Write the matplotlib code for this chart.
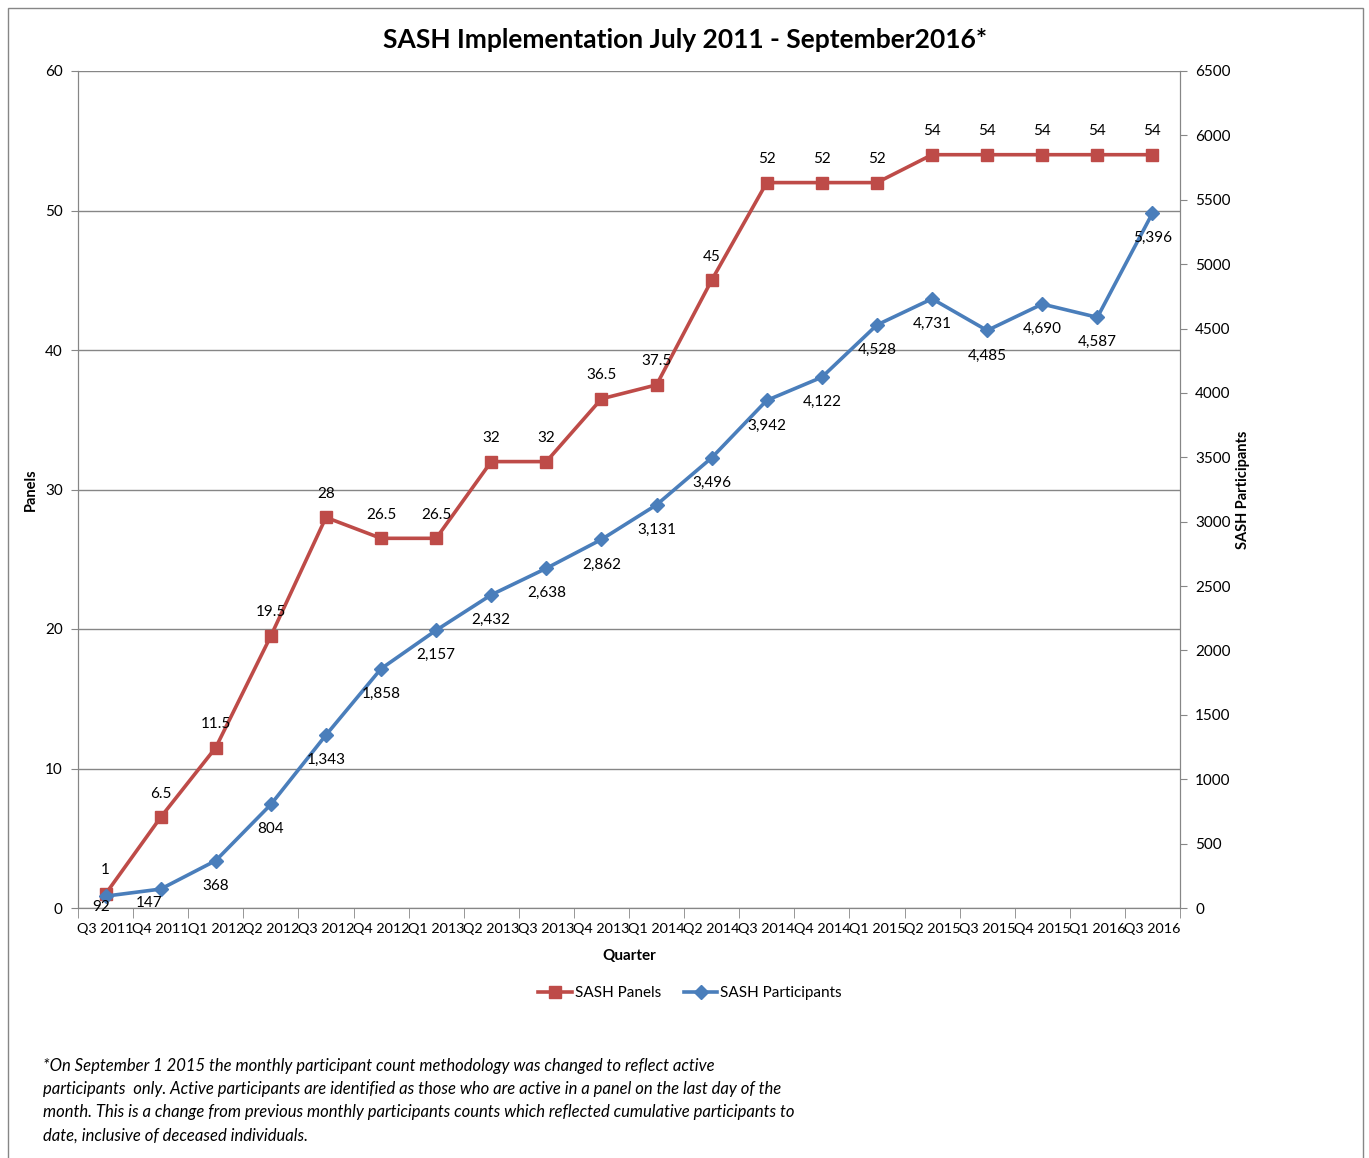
import matplotlib.pyplot as plt
import matplotlib.patches as patches
import numpy as np

plt.rcParams['font.family'] = ['Lato', 'DejaVu Sans']

# Data
quarters = ["Q3 2011", "Q4 2011", "Q1 2012", "Q2 2012", "Q3 2012", "Q4 2012",
            "Q1 2013", "Q2 2013", "Q3 2013", "Q4 2013", "Q1 2014", "Q2 2014",
            "Q3 2014", "Q4 2014", "Q1 2015", "Q2 2015", "Q3 2015", "Q4 2015",
            "Q1 2016", "Q3 2016"]
panels = [1, 6.5, 11.5, 19.5, 28, 26.5, 26.5, 32, 32, 36.5, 37.5, 45,
          52, 52, 52, 54, 54, 54, 54, 54]
participants = [92, 147, 368, 804, 1343, 1858, 2157, 2432, 2638, 2862, 3131, 3496,
                3942, 4122, 4528, 4731, 4485, 4690, 4587, 5396]

red = "#BE4B48"
blue = "#4A7EBB"
grey = "#868686"

fig = plt.figure(figsize=(13.69, 11.58), dpi=100)

# outer chart frame
frame = patches.Rectangle((8 / 1369, -0.01), (1363 - 8) / 1369, 1 - 8 / 1158 + 0.01,
                          transform=fig.transFigure, fill=False, edgecolor=grey, lw=1)
fig.patches.append(frame)

ax = fig.add_axes([78 / 1369, 1 - 908 / 1158, (1180 - 78) / 1369, (908 - 71) / 1158])
ax2 = ax.twinx()

x = np.arange(len(quarters))

ax.plot(x, panels, color=red, lw=2.6, marker='s', markersize=9, zorder=3)
ax2.plot(x, participants, color=blue, lw=2.6, marker='D', markersize=7, zorder=3)

ax.set_xlim(-0.5, len(quarters) - 0.5)
ax.set_ylim(0, 60)
ax.set_yticks(range(0, 61, 10))
ax2.set_ylim(0, 6500)
ax2.set_yticks(range(0, 6501, 500))

ax.set_xticks(x)
ax.set_xticklabels(quarters, fontsize=10.4)
ax.set_xticks(np.arange(-0.5, len(quarters)), minor=True)
ax.tick_params(axis='x', which='major', length=0, pad=11)
ax.tick_params(axis='x', which='minor', length=7, color=grey, direction='out')
ax.tick_params(axis='y', length=5, color=grey, labelsize=11, pad=6)
ax2.tick_params(axis='y', length=5, color=grey, labelsize=11, pad=6)

ax.grid(axis='y', color=grey, lw=1)
ax.set_axisbelow(True)
for a in (ax, ax2):
    for s in a.spines.values():
        s.set_color(grey)
    a.spines['top'].set_visible(False)

ax.set_ylabel("Panels", fontsize=10.5, fontweight='bold', labelpad=5)
ax2.set_ylabel("SASH Participants", fontsize=10.5, fontweight='bold', labelpad=4)
ax.set_xlabel("Quarter", fontsize=11, fontweight='bold', labelpad=10)

# data labels
for xi, v in zip(x, panels):
    ax.annotate(f"{v:g}", (xi, v), xytext=(0, 17), textcoords='offset points',
                ha='center', va='center', fontsize=11)
for i, (xi, v) in enumerate(zip(x, participants)):
    # the first two labels sit closer to the point so they clear the axis
    off = {0: (-3, -8), 1: (-8, -10)}.get(i, (0, -18))
    ax2.annotate(f"{v:,}", (xi, v), xytext=off, textcoords='offset points',
                 ha='center', va='center', fontsize=11)

fig.text(685 / 1369, 1 - 40 / 1158, "SASH Implementation July 2011 - September2016*",
         ha='center', va='center', fontsize=19, fontweight='bold')

# legend
h1, = ax.plot([], [], color=red, lw=2.6, marker='s', markersize=9)
h2, = ax.plot([], [], color=blue, lw=2.6, marker='D', markersize=7)
fig.legend([h1, h2], ["SASH Panels", "SASH Participants"], loc='center',
           bbox_to_anchor=(690 / 1369, 1 - 993 / 1158), ncol=2, frameon=False,
           fontsize=11, handlelength=2.2, handletextpad=0.2, columnspacing=1.5)

note = ("*On September 1 2015 the monthly participant count methodology was changed to reflect active\n"
        "participants  only. Active participants are identified as those who are active in a panel on the last day of the\n"
        "month. This is a change from previous monthly participants counts which reflected cumulative participants to\n"
        "date, inclusive of deceased individuals.")
fig.text(43 / 1369, 1 - 1058 / 1158, note, ha='left', va='top', fontsize=12,
         style='italic', linespacing=1.55)

plt.savefig("out.png", dpi=100)
